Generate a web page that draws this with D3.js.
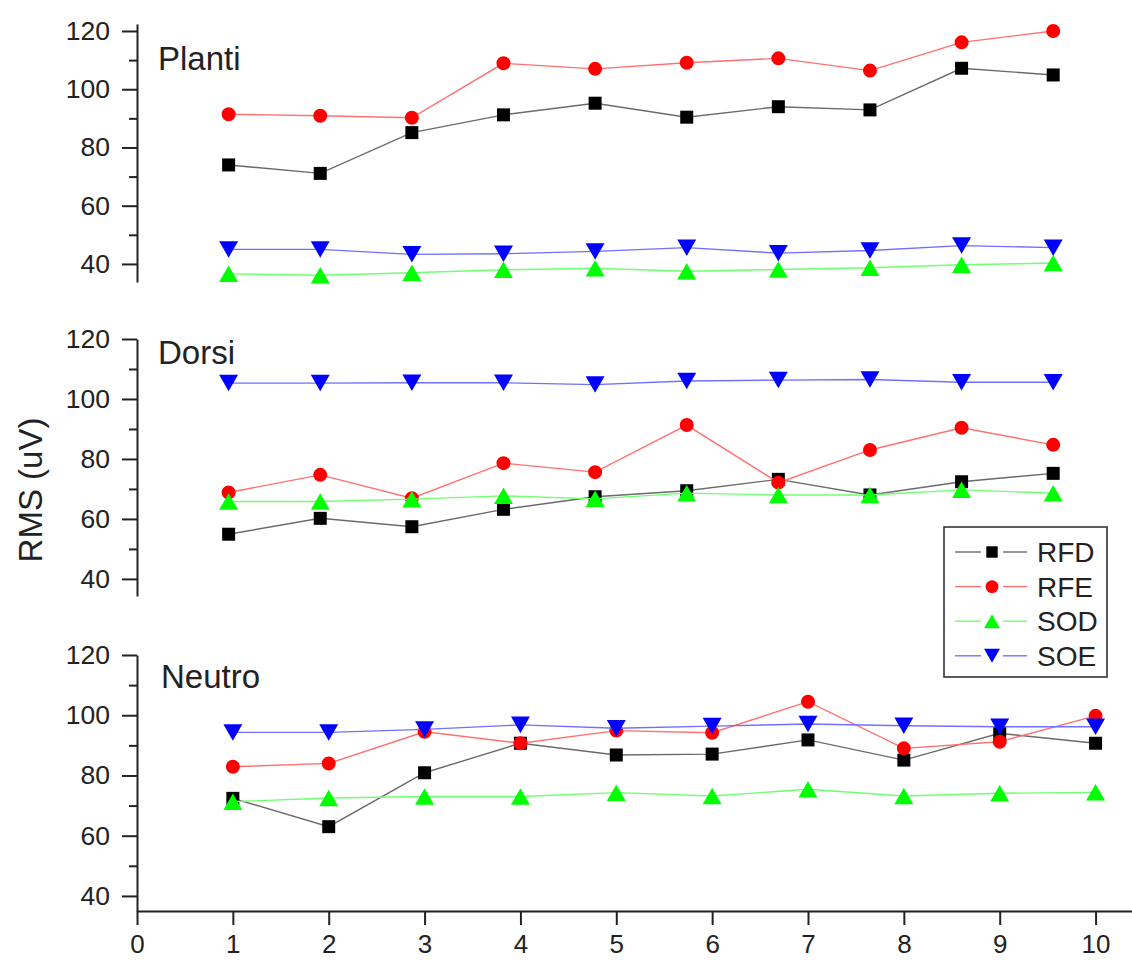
<!DOCTYPE html>
<html><head><meta charset="utf-8">
<script src="https://cdn.jsdelivr.net/npm/d3@7"></script>
<style>body{margin:0;background:#fff}svg{display:block}</style>
</head><body>
<svg id="chart" width="1132" height="960"></svg>
<script>
// ---------------- data ----------------
const xValues = [1, 2, 3, 4, 5, 6, 7, 8, 9, 10];
const seriesNames = ["RFD", "RFE", "SOD", "SOE"];
const panelNames = ["Planti", "Dorsi", "Neutro"];
const yTickValues = [40, 60, 80, 100, 120];
const yMinorTickValues = [50, 70, 90, 110];
const xTickValues = [0, 1, 2, 3, 4, 5, 6, 7, 8, 9, 10];
const yLabel = "RMS (uV)";

const plantiRFD = [74.0, 71.1, 85.1, 91.2, 95.2, 90.4, 94.0, 92.9, 107.2, 104.9];
const plantiRFE = [91.4, 90.9, 90.2, 108.9, 107.0, 109.1, 110.6, 106.4, 116.1, 120.0];
const plantiSOD = [36.6, 36.1, 37.0, 38.0, 38.5, 37.5, 38.1, 38.7, 39.7, 40.3];
const plantiSOE = [45.0, 45.0, 43.3, 43.5, 44.3, 45.6, 43.7, 44.6, 46.3, 45.6];

const dorsiRFD = [54.9, 60.2, 57.4, 63.2, 67.4, 69.4, 73.2, 68.0, 72.4, 75.2];
const dorsiRFE = [68.8, 74.7, 66.9, 78.6, 75.6, 91.3, 72.1, 83.0, 90.4, 84.7];
const dorsiSOD = [65.8, 65.8, 66.6, 67.7, 66.7, 68.6, 68.0, 68.0, 69.7, 68.6];
const dorsiSOE = [105.3, 105.3, 105.4, 105.4, 104.8, 106.0, 106.3, 106.5, 105.6, 105.6];

const neutroRFD = [72.4, 63.0, 80.9, 90.7, 86.8, 87.1, 91.8, 85.1, 94.0, 90.7];
const neutroRFE = [82.9, 84.0, 94.5, 90.7, 94.9, 94.2, 104.5, 89.0, 91.2, 99.8];
const neutroSOD = [71.3, 72.5, 73.0, 73.0, 74.3, 73.2, 75.4, 73.2, 74.1, 74.4];
const neutroSOE = [94.3, 94.3, 95.3, 96.8, 95.7, 96.4, 97.1, 96.5, 96.2, 96.2];

const panelSeries = [
  [plantiRFD, plantiRFE, plantiSOD, plantiSOE],
  [dorsiRFD, dorsiRFE, dorsiSOD, dorsiSOE],
  [neutroRFD, neutroRFE, neutroSOD, neutroSOE]
];

// ---------------- layout / style ----------------
const font = "'Liberation Sans', Arial, sans-serif";
const axisX = 137;
const rightEdge = 1132;
const panelLayout = [
  { yDomain: [33.8, 122.4], yRange: [282, 24], xMax: 10.86, titleX: 158, titleY: 70 },
  { yDomain: [34.3, 120], yRange: [596, 339], xMax: 10.86, titleX: 158, titleY: 364 },
  { yDomain: [35, 120], yRange: [911, 655], xMax: 10.38, titleX: 161, titleY: 688 }
];
const symbolColors = ["#000000", "#ff0000", "#00ff00", "#0000ff"];
const lineColors = ["#6a6a6a", "#ff7070", "#70ff70", "#7070ff"];

// custom triangle symbols (bbox-centred)
const triUp = { draw(ctx, size) { const a = Math.sqrt(size * 4 / Math.sqrt(3)); const h = a * 0.87; ctx.moveTo(0, -h / 2); ctx.lineTo(a / 2, h / 2); ctx.lineTo(-a / 2, h / 2); ctx.closePath(); } };
const triDown = { draw(ctx, size) { const a = Math.sqrt(size * 4 / Math.sqrt(3)); const h = a * 0.87; ctx.moveTo(0, h / 2); ctx.lineTo(a / 2, -h / 2); ctx.lineTo(-a / 2, -h / 2); ctx.closePath(); } };
const symbolTypes = [d3.symbolSquare, d3.symbolCircle, triUp, triDown];
const symbolSizes = [169, 154, 156, 156];
const legendSymbolSizes = [130, 130, 110, 110];

const svg = d3.select("#chart");

panelLayout.forEach((p, pi) => {
  const x = d3.scaleLinear().domain([0, p.xMax]).range([axisX, rightEdge]);
  const y = d3.scaleLinear().domain(p.yDomain).range(p.yRange);
  const g = svg.append("g");

  // minor y ticks
  const minor = g.append("g").attr("transform", `translate(${axisX},0)`)
    .call(d3.axisLeft(y).tickValues(yMinorTickValues).tickSize(8).tickSizeOuter(0).tickFormat(""));
  minor.select(".domain").remove();
  minor.selectAll("line").attr("stroke", "#222").attr("stroke-width", 2);

  // major y axis
  const ya = g.append("g").attr("transform", `translate(${axisX},0)`)
    .call(d3.axisLeft(y).tickValues(yTickValues).tickSize(15).tickSizeOuter(0).tickPadding(12));
  ya.select(".domain").attr("stroke", "#222").attr("stroke-width", 2);
  ya.selectAll("line").attr("stroke", "#222").attr("stroke-width", 2);
  ya.selectAll("text").attr("font-family", font).attr("font-size", 26.5).attr("fill", "#222");

  // panel title
  g.append("text").attr("x", p.titleX).attr("y", p.titleY)
    .attr("font-family", font).attr("font-size", 33).attr("fill", "#222").text(panelNames[pi]);

  // series
  panelSeries[pi].forEach((vals, si) => {
    const pts = xValues.map((xv, i) => [xv, vals[i]]);
    g.append("path").datum(pts)
      .attr("fill", "none").attr("stroke", lineColors[si]).attr("stroke-width", 1.4)
      .attr("d", d3.line().x(d => x(d[0])).y(d => y(d[1])));
    g.selectAll(null).data(pts).enter().append("path")
      .attr("transform", d => `translate(${x(d[0])},${y(d[1])})`)
      .attr("d", d3.symbol().type(symbolTypes[si]).size(symbolSizes[si]))
      .attr("fill", symbolColors[si]);
  });

  // bottom x axis (last panel only)
  if (pi === panelLayout.length - 1) {
    const xa = g.append("g").attr("transform", `translate(0,${p.yRange[0]})`)
      .call(d3.axisBottom(x).tickValues(xTickValues).tickSize(14).tickSizeOuter(0).tickPadding(10));
    xa.select(".domain").attr("stroke", "#222").attr("stroke-width", 2);
    xa.selectAll("line").attr("stroke", "#222").attr("stroke-width", 2);
    xa.selectAll("text").attr("font-family", font).attr("font-size", 26).attr("fill", "#222");
  }
});

// y label
svg.append("text")
  .attr("transform", "translate(42,490) rotate(-90)")
  .attr("text-anchor", "middle")
  .attr("font-family", font).attr("font-size", 33).attr("fill", "#222")
  .text(yLabel);

// legend
const lg = svg.append("g");
lg.append("rect").attr("x", 944).attr("y", 527).attr("width", 163).attr("height", 150)
  .attr("fill", "#fff").attr("stroke", "#333").attr("stroke-width", 1.6);
seriesNames.forEach((name, si) => {
  const cy = 552 + si * 34.6;
  lg.append("line").attr("x1", 955).attr("x2", 981).attr("y1", cy).attr("y2", cy)
    .attr("stroke", lineColors[si]).attr("stroke-width", 1.4);
  lg.append("line").attr("x1", 1003).attr("x2", 1027).attr("y1", cy).attr("y2", cy)
    .attr("stroke", lineColors[si]).attr("stroke-width", 1.4);
  lg.append("path").attr("transform", `translate(992,${cy})`)
    .attr("d", d3.symbol().type(symbolTypes[si]).size(legendSymbolSizes[si]))
    .attr("fill", symbolColors[si]);
  lg.append("text").attr("x", 1037).attr("y", cy + 10)
    .attr("font-family", font).attr("font-size", 28).attr("fill", "#222").text(name);
});
</script>
</body></html>
